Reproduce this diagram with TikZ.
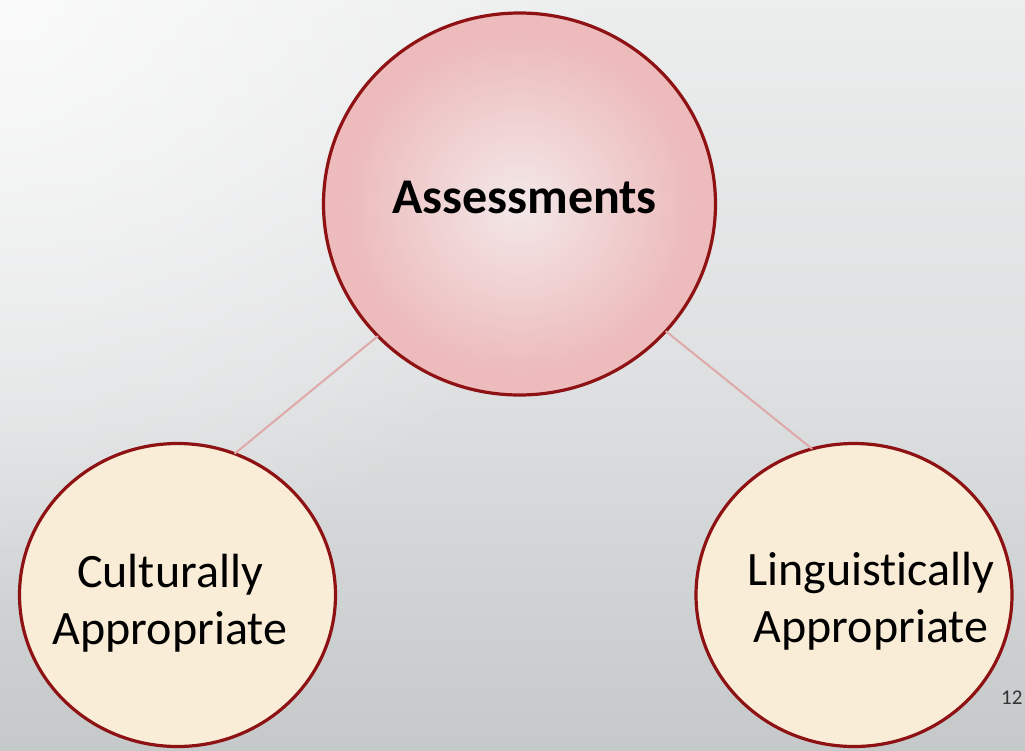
\documentclass[tikz,border=0pt]{standalone}
\usepackage{fontspec}
\setmainfont[Ligatures={NoCommon}]{Carlito}
\usetikzlibrary{shapes.geometric,fadings}
\definecolor{ringred}{HTML}{8E1213}
\definecolor{creamfill}{HTML}{FAEDD7}
\definecolor{linkpink}{HTML}{DFA9A9}
\definecolor{bgtop}{HTML}{ECEDED}
\definecolor{bgmid}{HTML}{DEE0E1}
\definecolor{bgbot}{HTML}{C5C9CA}
\definecolor{pkA}{HTML}{F3E8E8}
\definecolor{pkB}{HTML}{EDBBBC}
\definecolor{pkC}{HTML}{F0C9CA}
\pgfdeclareradialshading{bigglow}{\pgfpoint{0bp}{0bp}}{color(0bp)=(pkA); color(22bp)=(pkB); color(44bp)=(pkB); color(50bp)=(pkC); color(100bp)=(pkC)}
\tikzfading[name=cornerglow, inner color=transparent!0, outer color=transparent!100]
\tikzset{
  bigring/.style={ellipse, draw=ringred, line width=3.2pt, shading=bigglow, inner sep=0pt, outer sep=0pt},
  smallring/.style={ellipse, draw=ringred, line width=3.2pt, fill=creamfill, inner sep=0pt, outer sep=0pt, minimum width=316pt, minimum height=303pt},
  link/.style={draw=linkpink, line width=2pt},
  bigtext/.style={font=\fontsize{50}{60}\selectfont\bfseries, text=black, inner sep=0pt},
  smalltext/.style={font=\fontsize{48}{57}\selectfont, text=black, align=center, inner sep=0pt},
}
\begin{document}
\begin{tikzpicture}[x=1pt,y=-1pt]
\useasboundingbox (0,0) rectangle (1025,750);
\shade[top color=bgtop, bottom color=bgbot, middle color=bgmid] (0,0) rectangle (1025,750);
\fill[white, path fading=cornerglow, fill opacity=0.75] (-620,-620) rectangle (620,620);

\node[bigring, minimum width=392pt, minimum height=382pt] (assess) at (519.5,204) {};
\node[smallring] (cult) at (177.5,595) {};
\node[smallring] (ling) at (854,595) {};

\draw[link] (assess.223.8) -- (cult.68.8);
\draw[link] (assess.-41.7) -- (ling.106.7);

\node[bigtext, anchor=base] (t1) at (524.5,213) {Assessments};
\node[smalltext] (t2) at (170,603) {Culturally\\Appropriate};
\node[smalltext] (t3) at (871,601) {Linguistically\\Appropriate};
\node[font=\fontsize{21}{24}\selectfont, text=black!80, anchor=base west, inner sep=0pt] (pg) at (1001,704) {12};
\end{tikzpicture}
\end{document}
